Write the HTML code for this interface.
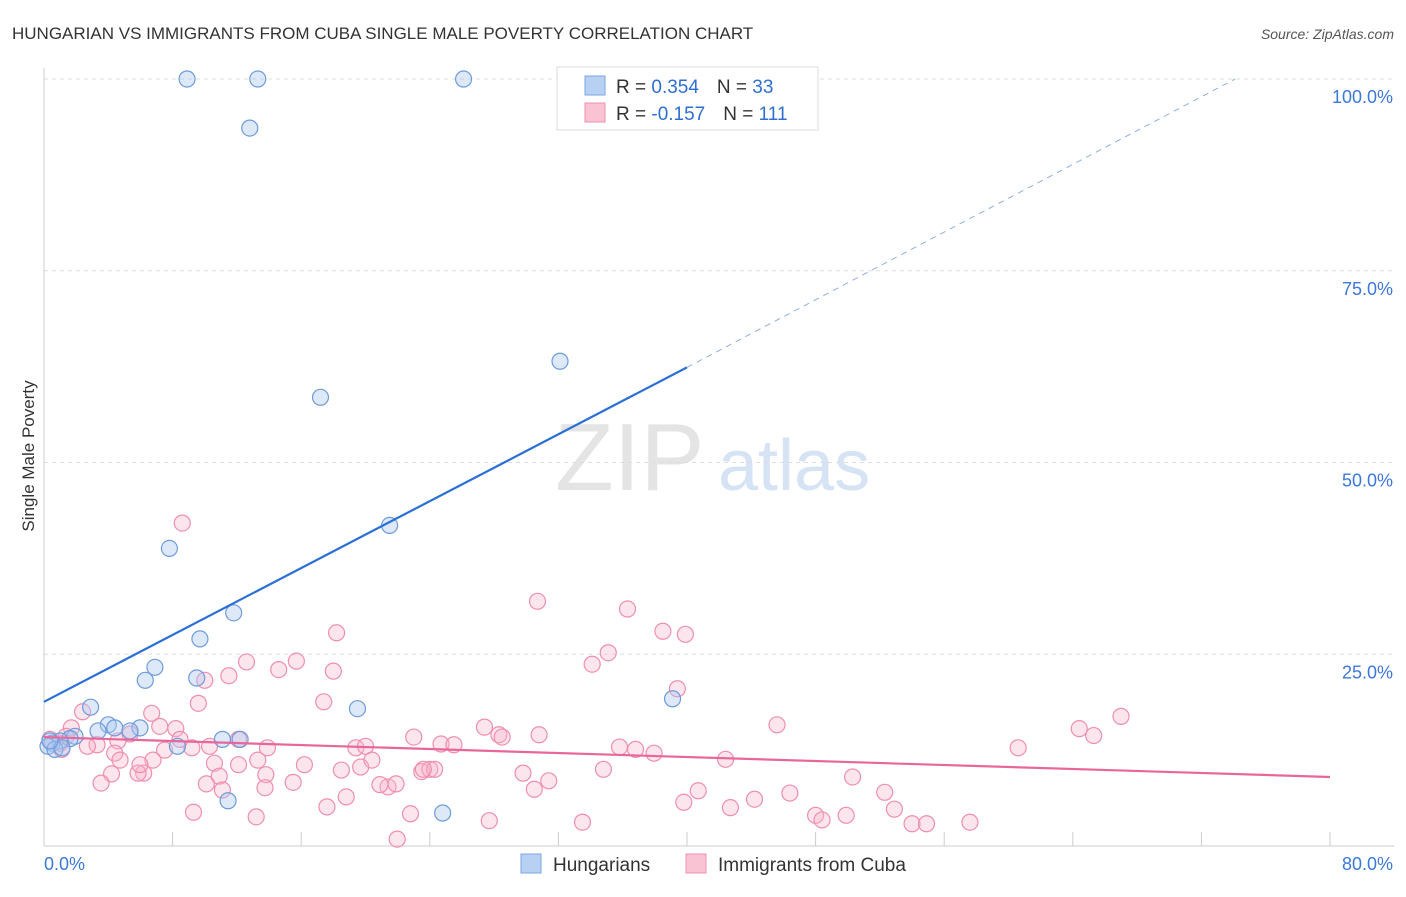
<!DOCTYPE html>
<html><head><meta charset="utf-8"><style>
body{margin:0;background:#fff;font-family:"Liberation Sans",sans-serif}
svg text{font-family:"Liberation Sans",sans-serif}
</style></head><body>
<svg id="c" width="1406" height="892" xmlns="http://www.w3.org/2000/svg">
<text x="12" y="39" font-size="17" fill="#333">HUNGARIAN VS IMMIGRANTS FROM CUBA SINGLE MALE POVERTY CORRELATION CHART</text>
<text x="1394" y="39" font-size="14" fill="#555" font-style="italic" text-anchor="end">Source: ZipAtlas.com</text>
<text x="34" y="456" font-size="17" fill="#333" text-anchor="middle" transform="rotate(-90 34 456)">Single Male Poverty</text>
<text x="555" y="490" font-size="96" fill="#e4e4e4" font-family="Liberation Serif">ZIP</text>
<text x="718" y="490" font-size="72" fill="#d6e3f5">atlas</text>
<g id="grid"></g><g id="pts"></g><g id="lines"></g>
<g>
<rect x="557" y="67" width="261" height="63" fill="#fff" stroke="#ddd"/>
<rect x="585" y="76" width="20" height="19" fill="#b8d1f3" stroke="#7aa6e0"/>
<rect x="585" y="103" width="20" height="19" fill="#f9c3d3" stroke="#ee91ad"/>
<text x="616" y="93" font-size="19" fill="#333">R = <tspan fill="#2f6fd0"> 0.354</tspan><tspan dx="18">N = </tspan><tspan fill="#2f6fd0">33</tspan></text>
<text x="616" y="120" font-size="19" fill="#333">R = <tspan fill="#2f6fd0">-0.157</tspan><tspan dx="18">N = </tspan><tspan fill="#2f6fd0">111</tspan></text>
</g>
<g>
<rect x="521" y="854" width="20" height="19" fill="#b8d1f3" stroke="#7aa6e0"/>
<text x="553" y="871" font-size="19" fill="#333">Hungarians</text>
<rect x="686" y="854" width="20" height="19" fill="#f9c3d3" stroke="#ee91ad"/>
<text x="718" y="871" font-size="19" fill="#333">Immigrants from Cuba</text>
</g>
</svg>
<script>
const yTicks=[25,50,75,100];
const yTickLabels=["25.0%","50.0%","75.0%","100.0%"];
const blueX=[8.9,13.3,26.1,12.8,32.1,17.2,21.5,7.8,11.8,9.7,6.9,6.3,9.5,19.5,2.9,39.1,4.0,4.4,5.97,5.35,3.36,1.93,1.62,1.0,0.5,0.25,0.68,8.3,11.1,12.2,11.45,24.8,1.12,0.37];
const blueY=[100,100,100,93.6,63.2,58.5,41.8,38.8,30.4,27.0,23.3,21.6,21.9,17.9,18.1,19.2,15.8,15.4,15.4,15.0,15.0,14.3,14.0,13.7,13.4,13.0,12.6,13.0,13.9,13.9,5.9,4.3,12.8,13.7];
const pinkX=[8.6,30.7,36.3,18.2,38.5,39.9,35.1,34.1,12.6,15.7,14.6,18.0,11.5,10.0,39.4,9.6,17.4,6.7,2.4,1.7,7.2,8.2,5.35,4.6,3.3,2.7,1.1,4.4,7.5,9.2,13.3,10.6,16.2,19.4,20.0,23.0,24.7,25.5,27.4,28.3,28.5,30.8,35.8,36.8,37.95,42.4,45.6,64.4,65.3,67.0,60.6,12.1,13.9,19.7,20.4,18.5,12.1,10.9,10.1,13.8,15.5,21.4,20.9,21.9,23.5,24.0,24.3,23.6,34.8,29.8,31.4,30.5,4.2,3.55,6.2,5.85,17.6,18.8,22.8,27.7,33.5,39.8,40.7,42.7,44.2,46.4,48.0,48.4,49.9,50.3,52.3,52.9,54.0,54.9,57.6,9.3,13.2,21.97,11.1,13.75,6.78,10.3,4.73,5.97,8.46,0.37,1.0,1.37];
const pinkY=[42.1,31.9,30.9,27.8,28.0,27.6,25.2,23.7,24.0,24.1,23.0,22.8,22.2,21.6,20.5,18.6,18.8,17.3,17.5,15.4,15.6,15.3,14.6,13.7,13.2,13.0,12.6,12.1,12.5,12.8,11.2,10.8,10.6,12.8,13.0,14.2,13.3,13.2,15.5,14.5,14.2,14.5,12.9,12.6,12.1,11.3,15.8,15.3,14.4,16.9,12.8,13.9,12.8,10.3,11.2,9.9,10.6,9.1,8.1,9.3,8.3,7.7,8.0,8.1,9.7,10.0,10.0,10.0,10.0,9.5,8.5,7.4,9.4,8.2,9.5,9.5,5.1,6.4,4.2,3.3,3.1,5.7,7.2,5.0,6.1,6.9,4.0,3.4,4.0,9.0,7.0,4.8,2.9,2.9,3.1,4.4,3.8,0.9,7.3,7.6,11.2,13.0,11.2,10.6,13.9,13.9,13.4,14.3];
const blueLine=[0,18.8,40,62.4];
const blueDash=[40,62.4,74.1,100];
const pinkLine=[0,14.2,80,9.0];
const sx=v=>44+v*16.075, sy=v=>846-v*7.67;
const NS="http://www.w3.org/2000/svg";
function mk(t,a,p){const e=document.createElementNS(NS,t);for(const k in a)e.setAttribute(k,a[k]);p.appendChild(e);return e;}
const g=document.getElementById('grid');
yTicks.forEach((t,i)=>{
 const l=mk('line',{x1:44,x2:1394,y1:sy(t),y2:sy(t),stroke:'#ddd','stroke-dasharray':'4,4'},g);
 
 const tx=mk('text',{x:1393,y:sy(t)+24,'font-size':18,fill:'#3c78d8','text-anchor':'end'},g);tx.textContent=yTickLabels[i];
 
});
mk('line',{x1:44,x2:44,y1:68,y2:846,stroke:'#ccc'},g);
mk('line',{x1:44,x2:1394,y1:846,y2:846,stroke:'#ccc'},g);
for(let i=1;i<=10;i++){const t=mk('line',{x1:sx(i*8),x2:sx(i*8),y1:832,y2:846,stroke:'#ccc'},g);}
let t0=mk('text',{x:44,y:870,'font-size':18,fill:'#3c78d8'},g);t0.textContent='0.0%';

let t1=mk('text',{x:1393,y:870,'font-size':18,fill:'#3c78d8','text-anchor':'end'},g);t1.textContent='80.0%';

const p=document.getElementById('pts');
pinkX.forEach((x,i)=>{const c=mk('circle',{cx:sx(x),cy:sy(pinkY[i]),r:8,fill:'rgba(249,180,202,0.35)',stroke:'#ee8fae','stroke-width':1.2},p);
 });
blueX.forEach((x,i)=>{const c=mk('circle',{cx:sx(x),cy:sy(blueY[i]),r:8,fill:'rgba(170,200,240,0.4)',stroke:'#6d9bdc','stroke-width':1.2},p);
 });
const L=document.getElementById('lines');
let a=mk('line',{x1:sx(blueLine[0]),y1:sy(blueLine[1]),x2:sx(blueLine[2]),y2:sy(blueLine[3]),stroke:'#2a6fd6','stroke-width':2.2},L);

let b=mk('line',{x1:sx(blueDash[0]),y1:sy(blueDash[1]),x2:sx(blueDash[2]),y2:sy(blueDash[3]),stroke:'#8fb0e0','stroke-width':1,'stroke-dasharray':'6,5'},L);

let c=mk('line',{x1:sx(pinkLine[0]),y1:sy(pinkLine[1]),x2:sx(pinkLine[2]),y2:sy(pinkLine[3]),stroke:'#e8679a','stroke-width':2.2},L);

</script>
</body></html>
